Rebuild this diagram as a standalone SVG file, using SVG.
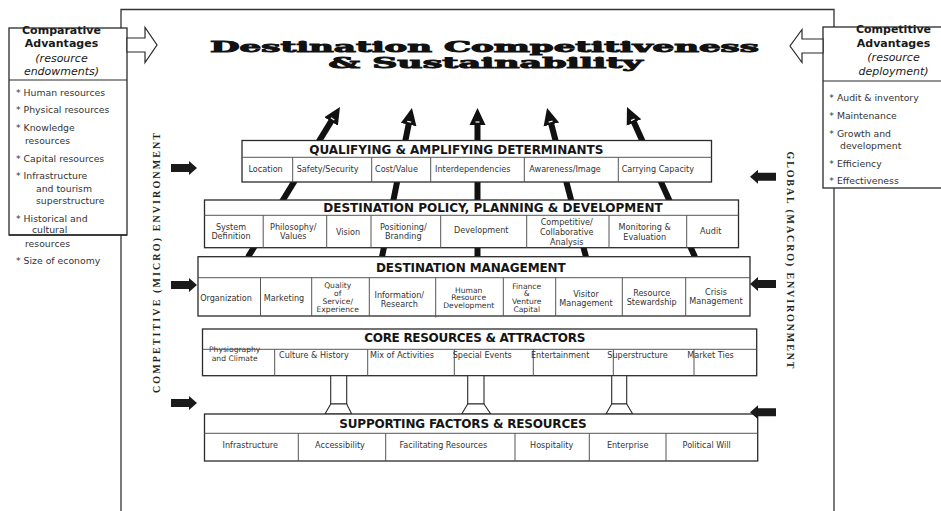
<svg xmlns="http://www.w3.org/2000/svg" xmlns:xlink="http://www.w3.org/1999/xlink" width="941" height="511" viewBox="0 0 941 511">
<style>
.frame{fill:none;stroke:#333;stroke-width:1.3}
.box{fill:#fff;stroke:#2a2a2a;stroke-width:1.3}
.dv{stroke:#555;stroke-width:1;fill:none}
.hdr{font-family:"DejaVu Sans",Verdana,sans-serif;font-weight:bold;font-size:12px;fill:#151515}
.cell{font-family:"DejaVu Sans",Verdana,sans-serif;font-size:8.1px;fill:#333}
.tight{font-size:7.6px}
.mid{text-anchor:middle}
.big{stroke:#111;stroke-width:6;fill:none;marker-end:url(#head)}
.blk{fill:#1a1a1a}
.hollow{fill:#fff;stroke:#2a2a2a;stroke-width:1.2}
.adv{font-family:"DejaVu Sans",Verdana,sans-serif;font-weight:bold;font-size:11px;fill:#1a1a1a;text-anchor:middle}
.advi{font-family:"DejaVu Sans",Verdana,sans-serif;font-style:italic;font-size:11px;fill:#1a1a1a;text-anchor:middle}
.lst{font-family:"DejaVu Sans",Verdana,sans-serif;font-size:9.3px;fill:#333}
.title{font-family:"DejaVu Serif","Liberation Serif",serif;font-weight:bold;font-size:15px;fill:#111;stroke:#111;stroke-width:0.9}
.side{font-family:"Liberation Serif","Times New Roman",serif;font-weight:bold;font-size:10px;fill:#222;text-anchor:middle}
.pil{fill:#fff;stroke:#2a2a2a;stroke-width:1.1}
</style>
<defs>
<marker id="head" markerUnits="userSpaceOnUse" viewBox="0 -9 18 18" markerWidth="18" markerHeight="18" refX="1" refY="0" orient="auto">
<path d="M0,-8 L17,0 L0,8 Z" fill="#111"/>
<path d="M3,-2 L3,2" stroke="#fff" stroke-width="1.2"/>
</marker>
<path id="barrow" d="M0,-4 H18 V-7 L26,0 L18,7 V4 H0 Z"/>
</defs>
<rect width="941" height="511" fill="#fff"/>
<path class="frame" d="M121,511 V9.5 H834 V511"/>

<g id="connectors">
<line class="big" x1="248" y1="257" x2="331.6" y2="120.6"/>
<line class="big" x1="382" y1="257" x2="408.8" y2="123.7"/>
<line class="big" x1="477.5" y1="257" x2="477.5" y2="124"/>
<line class="big" x1="586" y1="257" x2="551.1" y2="123.5"/>
<line class="big" x1="695" y1="257" x2="633.6" y2="121.6"/>
</g>

<g id="title">
<text class="title" x="210" y="52.3" textLength="549" lengthAdjust="spacingAndGlyphs">Destination Competitiveness</text>
<text class="title" x="328.6" y="67.5" textLength="314" lengthAdjust="spacingAndGlyphs">&amp; Sustainability</text>
</g>

<g id="qualifying">
<rect class="box" x="242" y="140.5" width="469.5" height="41.5"/>
<path class="dv" d="M242,157.3 H711.5 M292.7,157.3 V182 M371.7,157.3 V182 M430.7,157.3 V182 M524.3,157.3 V182 M618.3,157.3 V182"/>
<text class="hdr" x="309.3" y="153.5" textLength="294">QUALIFYING &amp; AMPLIFYING DETERMINANTS</text>
<text class="cell" x="248.5" y="171.7">Location</text>
<text class="cell" x="296.7" y="171.7">Safety/Security</text>
<text class="cell" x="375" y="171.7">Cost/Value</text>
<text class="cell" x="435" y="171.7">Interdependencies</text>
<text class="cell" x="529.3" y="171.7">Awareness/Image</text>
<text class="cell" x="621.7" y="171.7">Carrying Capacity</text>
</g>

<g id="policy">
<rect class="box" x="204.5" y="200" width="534" height="47.7"/>
<path class="dv" d="M204.5,215.3 H738.5 M263.2,215.3 V247.7 M326.7,215.3 V247.7 M371,215.3 V247.7 M440.7,215.3 V247.7 M526.7,215.3 V247.7 M609,215.3 V247.7 M686.7,215.3 V247.7"/>
<text class="hdr" x="323.3" y="211.7" textLength="339.4">DESTINATION POLICY, PLANNING &amp; DEVELOPMENT</text>
<g class="cell mid">
<text x="231" y="230">System</text><text x="231" y="239.3">Definition</text>
<text x="293.3" y="230">Philosophy/</text><text x="293.3" y="239.3">Values</text>
<text x="348" y="235">Vision</text>
<text x="403.3" y="230">Positioning/</text><text x="403.3" y="239.3">Branding</text>
<text x="481.3" y="232.7">Development</text>
<text x="566.7" y="225">Competitive/</text><text x="566.7" y="235">Collaborative</text><text x="566.7" y="245">Analysis</text>
<text x="644.7" y="230">Monitoring &amp;</text><text x="644.7" y="240">Evaluation</text>
<text x="710.7" y="234">Audit</text>
</g>
</g>

<g id="management">
<rect class="box" x="198" y="256.7" width="552" height="59.3"/>
<path class="dv" d="M198,277.7 H750 M260.5,277.7 V316 M311.7,277.7 V316 M369.3,277.7 V316 M435.7,277.7 V317.5 M503.3,277.7 V316 M555.7,277.7 V316 M622.3,277.7 V316 M685.7,277.7 V316"/>
<text class="hdr" x="376" y="271.7" textLength="189.7">DESTINATION MANAGEMENT</text>
<g class="cell mid">
<text x="226" y="301">Organization</text>
<text x="284" y="301">Marketing</text>
<text class="tight" x="337.7" y="288.3">Quality</text><text class="tight" x="337.7" y="296">of</text><text class="tight" x="337.7" y="304">Service/</text><text class="tight" x="337.7" y="312">Experience</text>
<text x="399.3" y="298.3">Information/</text><text x="399.3" y="306.7">Research</text>
<text class="tight" x="468.7" y="292.7">Human</text><text class="tight" x="468.7" y="300.3">Resource</text><text class="tight" x="468.7" y="308.3">Development</text>
<text class="tight" x="526.7" y="288.7">Finance</text><text class="tight" x="526.7" y="296">&amp;</text><text class="tight" x="526.7" y="304">Venture</text><text class="tight" x="526.7" y="312">Capital</text>
<text x="586" y="297.3">Visitor</text><text x="586" y="305.5">Management</text>
<text x="651.7" y="295.7">Resource</text><text x="651.7" y="305">Stewardship</text>
<text x="716" y="295">Crisis</text><text x="716" y="304.3">Management</text>
</g>
</g>

<g id="core">
<rect class="box" x="202.5" y="329" width="554.2" height="46.7"/>
<text class="cell mid tight" x="234.7" y="351.5">Physiography</text>
<text class="cell mid tight" x="234.7" y="360.5">and Climate</text>
<path class="dv" d="M202.5,349.3 H756.7 M274.7,349.3 V375.7 M367.7,349.3 V375.7 M454.3,349.3 V375.7 M533.3,349.3 V375.7 M613.3,349.3 V375.7 M694,349.3 V375.7"/>
<text class="hdr" x="364.3" y="341.7" textLength="221">CORE RESOURCES &amp; ATTRACTORS</text>
<text class="cell" x="279" y="358">Culture &amp; History</text>
<text class="cell" x="370" y="358">Mix of Activities</text>
<text class="cell" x="452.7" y="358">Special Events</text>
<text class="cell" x="531" y="358">Entertainment</text>
<text class="cell" x="607.3" y="358">Superstructure</text>
<text class="cell" x="687.3" y="358">Market Ties</text>
</g>

<g id="pillars">
<rect class="pil" x="330.7" y="375.7" width="16" height="28.3"/>
<path class="pil" d="M330.7,404 H346.7 L351.7,414 H325 Z"/>
<rect class="pil" x="467.7" y="375.7" width="16.3" height="28.3"/>
<path class="pil" d="M467.7,404 H484 L490.7,414 H461.7 Z"/>
<rect class="pil" x="611.7" y="375.7" width="15" height="28.3"/>
<path class="pil" d="M611.7,404 H626.7 L632.7,414 H606 Z"/>
</g>

<g id="supporting">
<rect class="box" x="204.5" y="414" width="553.2" height="47"/>
<path class="dv" d="M204.5,433.3 H757.7 M298.3,433.3 V461 M385.7,433.3 V461 M515,433.3 V461 M589.3,433.3 V461 M666,433.3 V461"/>
<text class="hdr" x="339.3" y="427.7" textLength="247.4">SUPPORTING FACTORS &amp; RESOURCES</text>
<g class="cell mid">
<text x="250.3" y="448.3">Infrastructure</text>
<text x="340" y="448.3">Accessibility</text>
<text x="443.3" y="448.3">Facilitating Resources</text>
<text x="551.7" y="448.3">Hospitality</text>
<text x="627.7" y="448.3">Enterprise</text>
<text x="706.7" y="448.3">Political Will</text>
</g>
</g>

<g id="side-arrows">
<use xlink:href="#barrow" class="blk" transform="translate(171,168)"/>
<use xlink:href="#barrow" class="blk" transform="translate(171,285)"/>
<use xlink:href="#barrow" class="blk" transform="translate(171,403)"/>
<use xlink:href="#barrow" class="blk" transform="translate(776,176.7) scale(-1,1)"/>
<use xlink:href="#barrow" class="blk" transform="translate(776,284) scale(-1,1)"/>
<use xlink:href="#barrow" class="blk" transform="translate(776,412.3) scale(-1,1)"/>
</g>

<g id="micro-label">
<text class="side" transform="translate(159.5,263) rotate(-90)" textLength="260">COMPETITIVE (MICRO) ENVIRONMENT</text>
</g>
<g id="macro-label">
<text class="side" transform="translate(786.5,260) rotate(90)" textLength="217">GLOBAL (MACRO) ENVIRONMENT</text>
</g>

<g id="comparative">
<rect class="box" x="9" y="28" width="118" height="207"/>
<path class="dv" d="M9,80 H127" style="stroke:#2a2a2a;stroke-width:1.2"/>
<text class="adv" x="61.5" y="34">Comparative</text>
<text class="adv" x="61.5" y="47">Advantages</text>
<text class="advi" x="61.5" y="61.5">(resource</text>
<text class="advi" x="61.5" y="75">endowments)</text>
<g class="lst">
<text x="16" y="96">* Human resources</text>
<text x="16" y="113.3">* Physical resources</text>
<text x="16" y="130.7">* Knowledge</text>
<text x="25" y="144">resources</text>
<text x="16" y="161.7">* Capital resources</text>
<text x="16" y="179.3">* Infrastructure</text>
<text x="36" y="192.3">and tourism</text>
<text x="36" y="204">superstructure</text>
<text x="16" y="221.7">* Historical and</text>
<text x="32" y="233.3">cultural</text>
<text x="25" y="246.7">resources</text>
<text x="16" y="264">* Size of economy</text>
</g>
</g>
<path class="dv" d="M9,235 H127" style="stroke:#2a2a2a;stroke-width:1.3"/>

<g id="competitive">
<rect class="box" x="823" y="27" width="125" height="161"/>
<path class="dv" d="M823,81 H941" style="stroke:#2a2a2a;stroke-width:1.2"/>
<text class="adv" x="893.5" y="33.3">Competitive</text>
<text class="adv" x="893.5" y="46.7">Advantages</text>
<text class="advi" x="893.5" y="61">(resource</text>
<text class="advi" x="893.5" y="75">deployment)</text>
<g class="lst">
<text x="829.3" y="101">* Audit &amp; inventory</text>
<text x="829.3" y="119">* Maintenance</text>
<text x="829.3" y="136.7">* Growth and</text>
<text x="840" y="149">development</text>
<text x="829.3" y="166.7">* Efficiency</text>
<text x="829.3" y="184.3">* Effectiveness</text>
</g>
</g>

<g id="hollow-arrows">
<path class="hollow" d="M127,38 H145 V27.5 L157,45 L145,62.5 V52 H127 Z"/>
<path class="hollow" d="M823,39 H802 V29.5 L790,46 L802,62.5 V53 H823 Z"/>
</g>
</svg>
